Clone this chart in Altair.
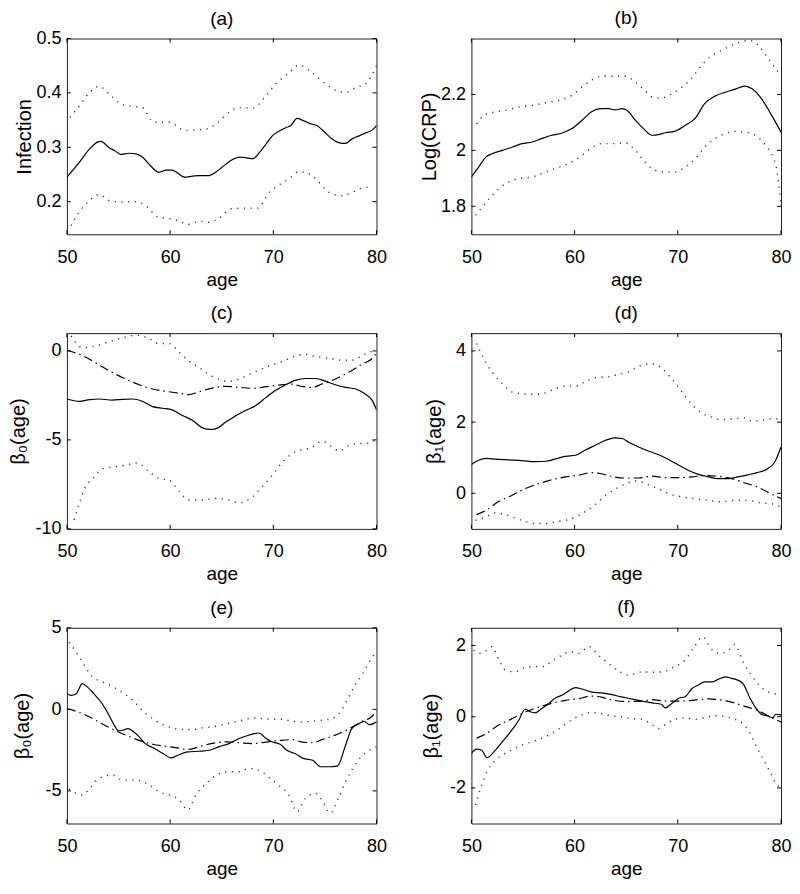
import altair as alt
import pandas as pd

FONT = "'Liberation Sans', Arial, sans-serif"
XTICKS = [50, 60, 70, 80]

# ---------------- panel (a): Infection ----------------
a_est_age = [50, 51.2, 52.2, 53, 53.3, 54.1, 54.6, 55.2, 56, 56.7, 57.3, 58.1, 58.9, 59.6, 60.2, 60.7, 61.4,
             62.2, 62.8, 63.5, 63.8, 64.4, 65.4, 66, 66.7, 67.3, 68, 68.8, 69.3, 69.9, 70.5, 71.2, 71.7, 72.3,
             72.9, 73.5, 74.3, 74.9, 75.7, 76.4, 77, 77.6, 78.3, 78.9, 79.6, 80]
a_est_val = [0.245, 0.272, 0.297, 0.310, 0.311, 0.299, 0.294, 0.287, 0.289, 0.288, 0.282, 0.266, 0.254, 0.258,
             0.258, 0.253, 0.245, 0.247, 0.248, 0.248, 0.248, 0.254, 0.269, 0.277, 0.282, 0.281, 0.279, 0.294,
             0.306, 0.321, 0.329, 0.336, 0.340, 0.353, 0.349, 0.344, 0.339, 0.329, 0.315, 0.308, 0.307, 0.315,
             0.321, 0.326, 0.332, 0.340]
a_up_age = [50.3, 51.2, 52.2, 53.1, 54.1, 55.2, 56.4, 57.3, 58.4, 59.9, 60.5, 61.4, 62.5, 63.6, 64.6, 65.7,
            66.7, 68, 69.3, 70.2, 71.4, 72.5, 73.5, 74.4, 75.4, 76.4, 77, 78, 78.9, 80]
a_up_val = [0.355, 0.376, 0.401, 0.412, 0.398, 0.380, 0.375, 0.373, 0.346, 0.346, 0.341, 0.331, 0.332, 0.334,
            0.345, 0.364, 0.373, 0.372, 0.395, 0.416, 0.435, 0.451, 0.441, 0.427, 0.412, 0.402, 0.401, 0.410,
            0.416, 0.450]
a_lo_age = [50.4, 51.2, 52.2, 53.1, 54.1, 55.4, 56.7, 57.8, 58.8, 59.9, 60.9, 61.7, 62.8, 63.8, 64.7, 66,
            67.3, 68.5, 69.6, 70.5, 71.5, 72.5, 73.5, 74.4, 75.4, 76.7, 77.6, 78.6, 79.6]
a_lo_val = [0.156, 0.181, 0.202, 0.213, 0.202, 0.199, 0.200, 0.190, 0.172, 0.169, 0.164, 0.158, 0.164, 0.162,
            0.169, 0.187, 0.188, 0.188, 0.217, 0.230, 0.242, 0.255, 0.251, 0.236, 0.217, 0.211, 0.217, 0.225,
            0.227]

# ---------------- panel (b): Log(CRP) ----------------
b_est_age = [50, 50.7, 51.4, 52, 53, 54, 54.9, 55.9, 56.8, 57.8, 58.8, 59.7, 60.7, 61.6, 62.6, 63.3, 63.9,
             64.6, 65.1, 65.9, 66.7, 67.5, 68.1, 68.8, 69.7, 70.7, 71.7, 72.6, 73.6, 74.6, 75.5, 76.5, 77.2,
             78.1, 79.1, 80]
b_est_val = [1.905, 1.940, 1.976, 1.988, 2.000, 2.012, 2.024, 2.030, 2.042, 2.054, 2.062, 2.077, 2.107, 2.137,
             2.149, 2.149, 2.145, 2.149, 2.143, 2.107, 2.077, 2.054, 2.056, 2.063, 2.068, 2.089, 2.115, 2.167,
             2.194, 2.208, 2.218, 2.230, 2.220, 2.185, 2.125, 2.065]
b_up_age = [50.5, 51.2, 52, 53.3, 54.6, 55.9, 57.2, 58.5, 59.7, 60.7, 61.6, 62.6, 63.9, 64.9, 65.9, 66.8,
            67.6, 68.4, 69.4, 70.4, 71.3, 72.3, 73.3, 74.2, 75.2, 76.2, 77, 77.8, 78.8, 79.6, 80]
b_up_val = [2.095, 2.125, 2.135, 2.143, 2.155, 2.161, 2.170, 2.179, 2.196, 2.226, 2.250, 2.265, 2.265, 2.265,
            2.244, 2.214, 2.190, 2.187, 2.202, 2.226, 2.256, 2.304, 2.339, 2.357, 2.375, 2.389, 2.393, 2.375,
            2.327, 2.286, 2.268]
b_lo_age = [50.4, 51.2, 52, 53.3, 54.6, 55.9, 57.2, 58.5, 59.7, 60.7, 61.6, 62.6, 63.9, 64.9, 65.9, 66.8,
            67.8, 68.8, 69.7, 70.7, 71.7, 72.6, 73.6, 74.6, 75.5, 76.5, 77.5, 78.5, 79.5, 80]
b_lo_val = [1.768, 1.804, 1.839, 1.881, 1.899, 1.905, 1.923, 1.940, 1.958, 1.982, 2.008, 2.024, 2.024, 2.027,
            2.000, 1.958, 1.929, 1.923, 1.923, 1.940, 1.970, 2.012, 2.042, 2.060, 2.068, 2.065, 2.054, 2.018,
            1.946, 1.804]

# ---------------- true functions (dash-dot) ----------------
true0_age = [50, 51.2, 52.2, 53.1, 54.4, 55.7, 57, 58.3, 59.6, 60.9, 61.8, 62.8, 64.1, 65.4, 66.7, 68, 69.3,
             70.5, 71.8, 72.7, 73.8, 74.7, 76, 77.4, 78.6, 79.6, 80]
true0_val = [0.04, -0.19, -0.47, -0.78, -1.21, -1.58, -1.90, -2.14, -2.27, -2.38, -2.46, -2.29, -2.09, -1.99,
             -2.05, -2.10, -2.01, -1.92, -1.86, -1.99, -2.05, -1.86, -1.58, -1.17, -0.74, -0.41, -0.09]
true1_age = [50.5, 51.4, 52.6, 53.9, 55.2, 56.5, 57.8, 59.1, 60.4, 61.6, 62.6, 63.5, 64.9, 66.2, 67.5, 68.8,
             70.1, 71.4, 72.6, 73.9, 75.2, 76.5, 77.7, 79, 80]
true1_val = [-0.60, -0.48, -0.24, -0.06, 0.13, 0.27, 0.38, 0.46, 0.51, 0.58, 0.55, 0.48, 0.43, 0.43, 0.48,
             0.44, 0.44, 0.46, 0.50, 0.48, 0.41, 0.29, 0.18, -0.01, -0.15]

# ---------------- panel (c) ----------------
c_est_age = [50, 51.2, 52.2, 53.1, 54.4, 55.4, 56.4, 57.3, 58.3, 59.3, 60.2, 61.2, 62.2, 63, 63.8, 64.4, 65.4,
             66.4, 67.3, 68.3, 69.3, 70.2, 71.2, 72.2, 73.1, 74.1, 75.1, 76, 77, 78, 78.9, 79.6, 80]
c_est_val = [-2.70, -2.83, -2.74, -2.70, -2.76, -2.72, -2.70, -2.83, -3.13, -3.22, -3.31, -3.63, -3.91, -4.28,
             -4.41, -4.38, -4.00, -3.63, -3.35, -3.07, -2.61, -2.23, -1.90, -1.64, -1.55, -1.55, -1.71, -1.90,
             -2.05, -2.14, -2.42, -2.79, -3.31]
c_up_age = [50.4, 51.5, 52.8, 54.1, 55.4, 56.7, 57.8, 58.9, 59.9, 60.9, 61.8, 62.8, 63.8, 64.7, 65.7, 66.7,
            67.6, 68.6, 69.9, 71.2, 72.2, 73.1, 74.1, 75.4, 76.7, 77.6, 78.6, 79.4, 80]
c_up_val = [0.84, 0.19, 0.28, 0.52, 0.74, 0.88, 0.74, 0.41, 0.41, -0.09, -0.56, -0.93, -1.34, -1.58, -1.71,
            -1.58, -1.34, -1.08, -0.78, -0.52, -0.28, -0.19, -0.32, -0.41, -0.52, -0.52, -0.28, -0.04, -0.19]
c_lo_age = [50.7, 51.2, 51.8, 52.5, 53.5, 54.6, 55.7, 56.8, 58, 58.9, 59.9, 60.9, 61.8, 63.1, 64.4, 65.7,
            66.7, 68, 68.9, 69.9, 70.9, 71.8, 72.8, 73.8, 74.7, 75.7, 76.4, 77.3, 78.3, 79.3, 80]
c_lo_val = [-9.50, -8.57, -7.64, -7.17, -6.61, -6.52, -6.42, -6.29, -6.80, -7.17, -7.26, -7.91, -8.38, -8.38,
            -8.29, -8.38, -8.53, -8.19, -7.64, -6.98, -6.24, -5.77, -5.55, -5.40, -5.07, -5.40, -5.62, -5.31,
            -5.21, -5.18, -4.93]

# ---------------- panel (d) ----------------
d_est_age = [50, 50.7, 51.5, 52.3, 53.6, 54.9, 56.2, 57.2, 58.1, 59.1, 60.1, 61, 62, 63, 63.9, 64.6, 65.2,
             66.2, 67.2, 68.1, 69.1, 70.1, 71, 72, 73, 73.9, 74.9, 75.8, 76.8, 77.7, 78.7, 79.4, 80]
d_est_val = [0.81, 0.93, 0.98, 0.96, 0.94, 0.92, 0.89, 0.90, 0.96, 1.04, 1.07, 1.21, 1.35, 1.49, 1.56, 1.54,
             1.44, 1.30, 1.18, 1.09, 0.95, 0.79, 0.65, 0.53, 0.46, 0.41, 0.41, 0.46, 0.52, 0.58, 0.69, 0.88, 1.30]
d_up_age = [50.5, 51.2, 52, 53, 53.9, 54.9, 56.2, 57.2, 58.1, 59.1, 60.1, 61, 62, 63.2, 64.2, 65.2, 66.5,
            67.5, 68.5, 69.4, 70.4, 71.3, 72.3, 73.2, 74.2, 75.5, 76.5, 77.2, 78.4, 79.4, 80]
d_up_val = [4.21, 3.78, 3.41, 3.08, 2.85, 2.80, 2.78, 2.82, 2.94, 3.01, 3.01, 3.13, 3.25, 3.27, 3.34, 3.41,
            3.60, 3.64, 3.50, 3.22, 2.85, 2.52, 2.26, 2.15, 2.07, 2.10, 2.12, 2.02, 2.07, 2.10, 2.05]
d_lo_age = [50.4, 51.4, 52.3, 53.3, 54.2, 55.2, 56.2, 57.2, 58.1, 59.1, 60.2, 61.1, 62.1, 63, 64, 65, 66,
            66.9, 68.1, 69.1, 70.4, 71.6, 72.9, 74.2, 75.5, 76.8, 78.1, 79.4, 80]
d_lo_val = [-0.76, -0.67, -0.55, -0.60, -0.69, -0.79, -0.85, -0.85, -0.81, -0.76, -0.65, -0.50, -0.29, -0.06,
            0.13, 0.27, 0.35, 0.27, 0.13, -0.01, -0.10, -0.15, -0.20, -0.24, -0.20, -0.20, -0.27, -0.31, -0.38]

# ---------------- panel (e) ----------------
e_est_age = [50, 50.4, 50.9, 51.5, 52, 52.6, 53.3, 53.9, 54.6, 55, 55.4, 55.9, 56.4, 57, 57.6, 58.5, 59.3,
             60.1, 60.9, 61.7, 62.8, 63.8, 64.7, 65.7, 66.7, 67.6, 68.6, 69.3, 69.9, 70.7, 71.3, 72.1, 72.9,
             73.8, 74.6, 75.4, 76.2, 77, 77.6, 78.3, 78.8, 79.3, 80]
e_est_val = [0.96, 0.86, 0.96, 1.57, 1.36, 0.96, 0.45, -0.16, -0.98, -1.32, -1.28, -1.18, -1.34, -1.69, -2.10,
             -2.40, -2.71, -2.97, -2.77, -2.61, -2.57, -2.51, -2.30, -2.10, -1.79, -1.59, -1.45, -1.79, -2.00,
             -2.16, -2.51, -2.71, -3.01, -3.12, -3.52, -3.52, -3.48, -2.20, -1.18, -0.88, -0.73, -0.94, -0.77]
e_up_age = [50.2, 50.9, 51.5, 52.5, 53.5, 54.5, 55.4, 56.4, 57.3, 58.3, 59.3, 60.2, 61.2, 62.2, 63.1, 64.1,
            65.1, 66, 67, 68, 68.9, 69.9, 70.9, 71.8, 72.8, 73.8, 74.7, 75.7, 76.6, 77.3, 77.9, 78.6, 79.2, 80]
e_up_val = [4.11, 3.50, 2.89, 1.98, 1.67, 1.36, 1.02, 0.55, -0.06, -0.57, -0.94, -1.14, -1.24, -1.24, -1.14,
            -1.08, -0.94, -0.81, -0.67, -0.53, -0.57, -0.61, -0.61, -0.73, -0.77, -0.73, -0.67, -0.57, -0.06,
            0.75, 1.47, 2.12, 2.79, 3.60]
e_lo_age = [50.2, 50.9, 51.5, 52.2, 53.1, 54.4, 55.4, 56.7, 58, 58.9, 59.9, 60.9, 61.7, 62.5, 63.5, 64.4,
            65.4, 66.7, 67.6, 68.6, 69.5, 70.5, 71.5, 72.3, 73.1, 74.1, 74.8, 75.5, 76.3, 77, 77.6, 78.5, 79.3, 80]
e_lo_val = [-4.89, -5.15, -5.25, -4.85, -4.24, -4.03, -4.34, -4.34, -4.64, -5.05, -5.25, -5.56, -6.17, -5.25,
            -4.54, -4.07, -3.83, -3.83, -3.63, -3.73, -4.13, -4.64, -5.25, -6.27, -5.46, -5.15, -5.66, -6.37,
            -5.46, -4.44, -3.73, -2.91, -2.51, -2.30]

# ---------------- panel (f) ----------------
f_est_age = [50, 50.5, 51, 51.5, 52.2, 53, 53.8, 54.6, 55.2, 55.7, 56.2, 56.8, 57.5, 58.1, 58.8, 59.4, 60.1,
             60.7, 61.6, 62.6, 63.5, 64.5, 65.5, 66.5, 67.5, 68.4, 68.8, 69.4, 70.1, 70.7, 71.4, 72, 72.6, 73.3,
             73.9, 74.6, 75.2, 75.8, 76.3, 77, 77.6, 78.1, 78.7, 79.2, 79.5, 80]
f_est_val = [-1.03, -0.91, -0.94, -1.15, -0.98, -0.70, -0.42, -0.09, 0.21, 0.14, 0.11, 0.23, 0.37, 0.52, 0.61,
             0.72, 0.82, 0.78, 0.70, 0.67, 0.63, 0.56, 0.50, 0.44, 0.39, 0.35, 0.25, 0.37, 0.52, 0.56, 0.80, 0.89,
             0.98, 0.98, 1.05, 1.12, 1.08, 1.03, 0.94, 0.52, 0.23, 0.07, 0.02, -0.03, 0.07, 0.05]
f_up_age = [50.2, 50.9, 51.5, 52, 52.6, 53.3, 54.2, 55.2, 56.2, 57, 57.8, 58.8, 59.6, 60.4, 61.4, 62.3, 63.3,
            64.3, 65.2, 66.5, 67.8, 68.8, 69.7, 70.7, 71.6, 72.4, 73.2, 74, 74.8, 75.5, 76.3, 77, 77.6, 78.4,
            79.2, 80]
f_up_val = [1.87, 1.78, 1.87, 1.97, 1.64, 1.31, 1.26, 1.38, 1.41, 1.41, 1.56, 1.73, 1.83, 1.78, 1.97, 1.73,
            1.50, 1.28, 1.17, 1.26, 1.25, 1.28, 1.41, 1.59, 1.97, 2.25, 1.92, 1.78, 1.83, 2.03, 1.55, 1.22, 0.98,
            0.75, 0.66, 0.61]
f_lo_age = [50.4, 51, 51.5, 52.2, 53, 53.9, 54.9, 55.9, 56.8, 57.8, 58.8, 59.7, 60.7, 61.6, 62.6, 63.5, 64.5,
            65.5, 66.5, 67.5, 68.1, 68.8, 69.7, 70.7, 71.6, 72.6, 73.6, 74.6, 75.5, 76.3, 77.1, 77.7, 78.4, 79,
            79.5, 80]
f_lo_val = [-2.48, -1.92, -1.55, -1.26, -1.08, -0.94, -0.80, -0.70, -0.61, -0.47, -0.28, -0.09, 0.05, 0.12,
            0.09, 0.03, 0.00, -0.05, -0.07, -0.22, -0.33, -0.22, -0.07, -0.03, -0.07, -0.03, 0.03, 0.00, -0.07,
            -0.19, -0.52, -0.89, -1.26, -1.59, -1.87, -2.01]

PANEL_W, PANEL_H = 310, 196
TICK = 4


def frame_df(ages, vals):
    return pd.DataFrame({"age": ages, "v": vals})


def panel(title, ytitle, ydom, yticks, title_x, est, up, lo, true=None, title_offset=10):
    xs = alt.Scale(domain=[50, 80], nice=False, zero=False)
    ys = alt.Scale(domain=ydom, nice=False, zero=False)
    x_axis = alt.Axis(values=XTICKS, title="age", grid=False, ticks=False, domain=False,
                      labelPadding=14, titlePadding=4, labelFlush=False, labelOverlap=False)
    y_axis = alt.Axis(values=yticks, title=ytitle, grid=False, ticks=False, domain=False,
                      labelPadding=6, labelExpr="'' + datum.value", titleX=title_x,
                      titleY=PANEL_H / 2, titleBaseline="middle", labelOverlap=False,
                      titleFontSize=20)
    X = alt.X("age:Q", scale=xs, axis=x_axis)
    Y = alt.Y("v:Q", scale=ys, axis=y_axis)

    def line(df, style):
        kw = dict(color="black", strokeWidth=1.2)
        if style == "dot":
            kw = dict(color="#333333", strokeWidth=1.4, strokeDash=[1.2, 5.5], strokeCap="butt")
        elif style == "dashdot":
            kw = dict(color="black", strokeWidth=1.2, strokeDash=[9, 4, 1.5, 4])
        return alt.Chart(df).mark_line(clip=True, interpolate="monotone", **kw).encode(x=X, y=Y)

    layers = [line(frame_df(*est), "solid"), line(frame_df(*up), "dot"), line(frame_df(*lo), "dot")]
    if true is not None:
        layers.append(line(frame_df(*true), "dashdot"))

    xt = pd.DataFrame({"age": XTICKS})
    yt = pd.DataFrame({"v": yticks})
    tick_kw = dict(color="black", strokeWidth=1)
    layers += [
        alt.Chart(xt).mark_rule(**tick_kw).encode(x=X, y=alt.value(PANEL_H), y2=alt.value(PANEL_H - TICK)),
        alt.Chart(xt).mark_rule(**tick_kw).encode(x=X, y=alt.value(0), y2=alt.value(TICK)),
        alt.Chart(yt).mark_rule(**tick_kw).encode(y=Y, x=alt.value(0), x2=alt.value(TICK)),
        alt.Chart(yt).mark_rule(**tick_kw).encode(y=Y, x=alt.value(PANEL_W), x2=alt.value(PANEL_W - TICK)),
    ]
    return alt.layer(*layers).properties(
        width=PANEL_W, height=PANEL_H,
        title=alt.TitleParams(title, fontSize=19, fontWeight="normal", font=FONT, offset=title_offset,
                              color="black"),
    )


pa = panel("(a)", "Infection", [0.14, 0.5], [0.2, 0.3, 0.4, 0.5], -42,
           (a_est_age, a_est_val), (a_up_age, a_up_val), (a_lo_age, a_lo_val), title_offset=1)
pb = panel("(b)", "Log(CRP)", [1.7, 2.4], [1.8, 2, 2.2], -42,
           (b_est_age, b_est_val), (b_up_age, b_up_val), (b_lo_age, b_lo_val))
pc = panel("(c)", "β₀(age)", [-10, 1], [-10, -5, 0], -48,
           (c_est_age, c_est_val), (c_up_age, c_up_val), (c_lo_age, c_lo_val), (true0_age, true0_val))
pd_ = panel("(d)", "β₁(age)", [-1, 4.5], [0, 2, 4], -37,
            (d_est_age, d_est_val), (d_up_age, d_up_val), (d_lo_age, d_lo_val), (true1_age, true1_val))
pe = panel("(e)", "β₀(age)", [-7, 5], [-5, 0, 5], -44,
           (e_est_age, e_est_val), (e_up_age, e_up_val), (e_lo_age, e_lo_val), (true0_age, true0_val),
           title_offset=1)
pf = panel("(f)", "β₁(age)", [-3, 2.5], [-2, 0, 2], -40,
           (f_est_age, f_est_val), (f_up_age, f_up_val), (f_lo_age, f_lo_val), (true1_age, true1_val))

chart = alt.concat(pa, pb, pc, pd_, pe, pf, columns=2, spacing={"row": 99, "column": 95}, bounds="flush").properties(
    padding={"left": 0, "top": 0, "right": 0, "bottom": 0},
    background="white",
).configure_view(stroke="#222222", strokeWidth=1).configure_axis(
    labelFont=FONT, titleFont=FONT, labelFontSize=18, titleFontSize=19, labelColor="black", titleColor="black",
    titleFontWeight="normal",
).configure_title(anchor="middle")

chart.save("out.html", embed_options={"renderer": "svg", "actions": False})
